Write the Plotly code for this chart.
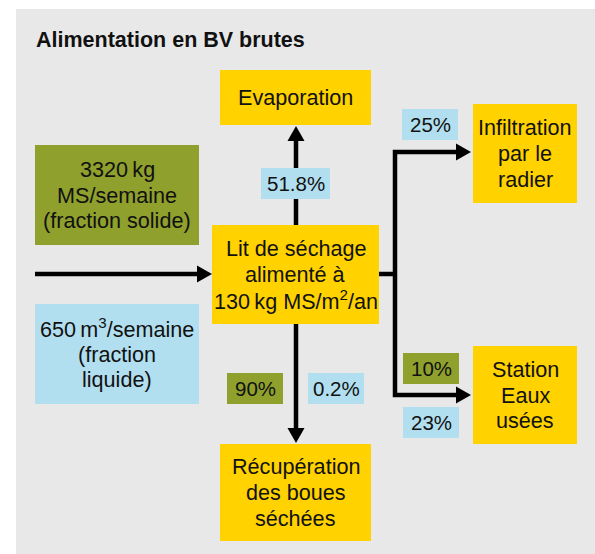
import plotly.graph_objects as go

# ---------------- data (texts) ----------------
title_text = "Alimentation en BV brutes"
node_ids = ["evap", "solid", "liquid", "lit", "infil", "station", "recup"]
node_lines = [
    ["Evaporation"],
    ["3320\u2009kg", "MS/semaine", "(fraction solide)"],
    ["650\u2009m<sup>3</sup>/semaine", "(fraction", "liquide)"],
    ["Lit de séchage", "alimenté à", "130\u2009kg MS/m<sup>2</sup>/an"],
    ["Infiltration", "par le", "radier"],
    ["Station", "Eaux", "usées"],
    ["Récupération", "des boues", "séchées"],
]
node_kind = ["process", "solid", "liquid", "process", "process", "process", "process"]

pct_labels = ["51.8%", "25%", "10%", "23%", "90%", "0.2%"]
pct_kind = ["liquid", "liquid", "solid", "liquid", "solid", "liquid"]

# ---------------- layout / style ----------------
W, H = 595, 554
colors = {"process": "#FFD200", "solid": "#8FA02C", "liquid": "#B2DFEF"}
panel_color = "#E8E8E8"
FONT = "Liberation Sans, Arial, sans-serif"
FS = 21.6
LINE_H = 25.8

node_box = {
    "evap": (220, 70, 371, 125),
    "solid": (35, 145, 199, 245),
    "liquid": (35, 304, 199, 404),
    "lit": (212, 225, 379, 324),
    "infil": (473, 104, 577, 203),
    "station": (473, 346, 577, 444),
    "recup": (220, 444, 371, 541),
}
pct_box = [
    (261, 168, 330, 199),
    (402, 109, 458, 140),
    (403, 353, 459, 384),
    (403, 407, 459, 438),
    (227, 373, 283, 404),
    (308, 373, 364, 404),
]
# polylines ending with an arrowhead (last point = tip)
arrows = [
    ([(35, 274), (212, 274)], True),
    ([(296, 225), (296, 126)], True),
    ([(296, 324), (296, 443)], True),
    ([(379, 274), (395, 274)], False),
    ([(395, 274), (395, 152), (471, 152)], True),
    ([(395, 274), (395, 395), (471, 395)], True),
]
LW = 4.5
HEAD_L, HEAD_W = 15, 17

fig = go.Figure()
shapes = []
annotations = []

shapes.append(dict(type="rect", x0=16, y0=9, x1=W + 2, y1=H + 2, fillcolor=panel_color,
                   line=dict(width=0), layer="below"))

# arrows
for pts, head in arrows:
    pts = list(pts)
    if head:
        (xa, ya), (xb, yb) = pts[-2], pts[-1]
        dx, dy = xb - xa, yb - ya
        L = (dx * dx + dy * dy) ** 0.5
        ux, uy = dx / L, dy / L
        bx, by = xb - ux * HEAD_L, yb - uy * HEAD_L
        px, py = -uy, ux
        tri = (f"M {xb},{yb} L {bx + px * HEAD_W / 2},{by + py * HEAD_W / 2} "
               f"L {bx - px * HEAD_W / 2},{by - py * HEAD_W / 2} Z")
        shapes.append(dict(type="path", path=tri, fillcolor="black",
                           line=dict(width=0), layer="above"))
        pts[-1] = (bx + ux * 1, by + uy * 1)
    path = "M " + " L ".join(f"{x},{y}" for x, y in pts)
    shapes.append(dict(type="path", path=path, line=dict(color="black", width=LW),
                       layer="above"))

# boxes (drawn above lines)
for nid, lines, kind in zip(node_ids, node_lines, node_kind):
    x0, y0, x1, y1 = node_box[nid]
    shapes.append(dict(type="rect", x0=x0, y0=y0, x1=x1, y1=y1,
                       fillcolor=colors[kind], line=dict(width=0), layer="above"))
    cx, cy = (x0 + x1) / 2, (y0 + y1) / 2
    n = len(lines)
    for i, t in enumerate(lines):
        annotations.append(dict(x=cx, y=cy + (i - (n - 1) / 2) * LINE_H, text=t,
                                showarrow=False, xanchor="center", yanchor="middle",
                                font=dict(family=FONT, size=FS, color="#111111")))

for lab, kind, (x0, y0, x1, y1) in zip(pct_labels, pct_kind, pct_box):
    shapes.append(dict(type="rect", x0=x0, y0=y0, x1=x1, y1=y1,
                       fillcolor=colors[kind], line=dict(width=0), layer="above"))
    annotations.append(dict(x=(x0 + x1) / 2, y=(y0 + y1) / 2, text=lab,
                            showarrow=False, xanchor="center", yanchor="middle",
                            font=dict(family=FONT, size=20.5, color="#111111")))

annotations.append(dict(x=34, y=40, text=f"<b>{title_text}</b>", showarrow=False,
                        xanchor="left", yanchor="middle",
                        font=dict(family=FONT, size=21.5, color="#111111")))

fig.update_layout(
    width=W, height=H, margin=dict(l=0, r=0, t=0, b=0, autoexpand=False),
    paper_bgcolor=panel_color, plot_bgcolor=panel_color,
    xaxis=dict(range=[0, W], visible=False, fixedrange=True),
    yaxis=dict(range=[H, 0], visible=False, fixedrange=True),
    shapes=shapes, annotations=annotations, showlegend=False,
)
# white page borders (top and left) around the grey panel
fig.add_shape(type="rect", x0=-2, y0=-2, x1=16, y1=H + 2, fillcolor="white",
              line=dict(width=0), layer="below")
fig.add_shape(type="rect", x0=-2, y0=-2, x1=W + 2, y1=9, fillcolor="white",
              line=dict(width=0), layer="below")
fig.write_html("out.html", config={"displayModeBar": False},
               post_script="document.body.style.margin='0';"
                           "document.documentElement.style.overflow='hidden';"
                           "document.body.style.overflow='hidden';"
                           "document.body.style.background='#E8E8E8';")
